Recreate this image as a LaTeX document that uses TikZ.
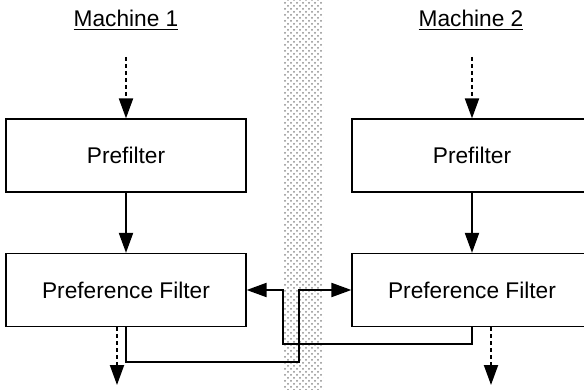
\documentclass[tikz,border=0pt]{standalone}
\usepackage{fontspec}
\setmainfont{Liberation Sans}
\usetikzlibrary{positioning}
\usetikzlibrary{arrows.meta}
\usetikzlibrary{patterns}
\tikzset{
    procbox/.style = {rectangle, draw=black, line width=0.6pt, align=center, minimum width=120pt, minimum height=36.5pt, font=\fontsize{11.35}{13}\selectfont},
    machlabel/.style = {font=\fontsize{11.35}{13}\selectfont, inner sep=1pt},
    edgen/.style = {line width=1pt, black, -{Triangle[length=10pt,width=7pt]}},
    edged/.style = {line width=1pt, black, dash pattern=on 2pt off 1.5pt, -{Triangle[length=10pt,width=7pt]}},
    netband/.style = {pattern=crosshatch dots, pattern color=gray!90}
}
\begin{document}
\begin{tikzpicture}[x=0.5pt,y=-0.5pt]
\useasboundingbox (0,0) rectangle (584,390);
% network between the machines
\fill[netband] (283,0) rectangle (323,390);
%
\node[machlabel] at (126,20) (m1) {\underline{Machine 1}};
\node[machlabel] at (471,20) (m2) {\underline{Machine 2}};
\node[procbox] at (126,155.5) (pre1) {Prefilter};
\node[procbox] at (472,155.5) (pre2) {Prefilter};
\node[procbox] at (126,290) (pref1) {Preference Filter};
\node[procbox] at (472,290) (pref2) {Preference Filter};
%
\coordinate (in1) at (126,57);
\coordinate (in2) at (472,57);
\coordinate (out1) at (117,385);
\coordinate (out2) at (491,385);
\coordinate (c1) at (299,362);
\coordinate (c2) at (283,344);
%
\draw[edged] (in1) -- (pre1.north);
\draw[edged] (in2) -- (pre2.north);
\draw[edgen] (pre1.south) -- (pref1.north);
\draw[edgen] (pre2.south) -- (pref2.north);
\draw[edged] (pref1.south -| out1) -- (out1);
\draw[edged] (pref2.south -| out2) -- (out2);
%
\draw[edgen] (pref1.south) |- (c1) |- (pref2.west);
\draw[edgen] (pref2.south) |- (c2) |- (pref1.east);
\end{tikzpicture}
\end{document}
